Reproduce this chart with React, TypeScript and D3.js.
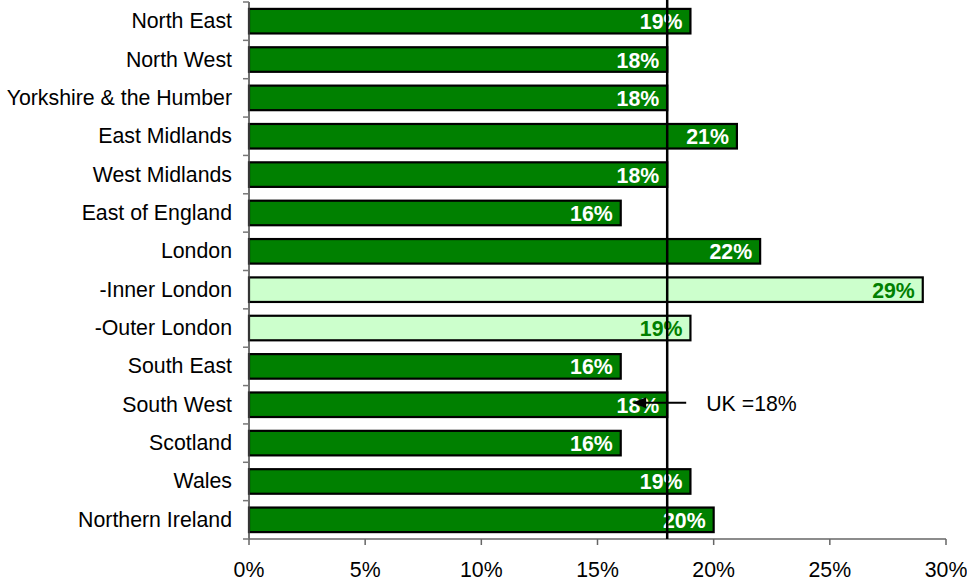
import React from "react";
import * as d3 from "d3";

const categories = [
  "North East",
  "North West",
  "Yorkshire & the Humber",
  "East Midlands",
  "West Midlands",
  "East of England",
  "London",
  "-Inner London",
  "-Outer London",
  "South East",
  "South West",
  "Scotland",
  "Wales",
  "Northern Ireland",
];
const values = [19, 18, 18, 21, 18, 16, 22, 29, 19, 16, 18, 16, 19, 20];
const subRegion = [false, false, false, false, false, false, false, true, true, false, false, false, false, false];
const xTicks = [0, 5, 10, 15, 20, 25, 30];
const ukValue = 18;
const ukLabel = "UK =18%";
const ukArrowRow = "South West";

const W = 967;
const H = 582;
const left = 249;
const right = 946;
const top = 2;
const bottom = 539;
const font = "'Liberation Sans', Arial, sans-serif";
const fs = 21.3;

export default function App() {
  const x = d3.scaleLinear().domain([0, 30]).range([left, right]);
  const y = d3
    .scaleBand<string>()
    .domain(categories)
    .range([top, bottom])
    .paddingInner(0.36)
    .paddingOuter(0.18);
  const step = y.step();
  const bw = y.bandwidth();
  const ux = x(ukValue);
  const arrowY = (y(ukArrowRow) as number) + bw / 2 - 2;

  return (
    <div style={{ position: "fixed", left: 0, top: 0 }}>
      <svg width={W} height={H} style={{ display: "block", background: "#fff" }}>
        {categories.map((c, i) => (
          <rect
            key={c}
            x={x(0)}
            y={y(c)}
            width={x(values[i]) - x(0)}
            height={bw}
            fill={subRegion[i] ? "#CCFFCC" : "#008000"}
            stroke="#000"
            strokeWidth={2.2}
          />
        ))}
        {categories.map((c, i) => (
          <text
            key={c + "v"}
            x={x(values[i]) - 8}
            y={(y(c) as number) + bw / 2 + 8}
            textAnchor="end"
            fontFamily={font}
            fontWeight="bold"
            fontSize={fs}
            fill={subRegion[i] ? "#008000" : "#fff"}
          >
            {values[i]}%
          </text>
        ))}
        <line x1={left} x2={left} y1={top} y2={bottom} stroke="#444" strokeWidth={1.5} />
        {d3.range(categories.length + 1).map((i) => (
          <line
            key={"yt" + i}
            x1={left - 6}
            x2={left}
            y1={top + i * step}
            y2={top + i * step}
            stroke="#777"
            strokeWidth={1.5}
          />
        ))}
        {categories.map((c) => (
          <text
            key={c + "l"}
            x={232}
            y={(y(c) as number) + bw / 2 + 7}
            textAnchor="end"
            fontFamily={font}
            fontSize={fs}
            fill="#000"
          >
            {c}
          </text>
        ))}
        <line x1={left} x2={right} y1={bottom} y2={bottom} stroke="#666" strokeWidth={1.5} />
        {xTicks.map((t) => (
          <g key={"xt" + t}>
            <line x1={x(t)} x2={x(t)} y1={bottom} y2={bottom + 6} stroke="#666" strokeWidth={1.5} />
            <text
              x={x(t)}
              y={577}
              textAnchor="middle"
              fontFamily={font}
              fontSize={fs}
              fill="#000"
            >
              {t}%
            </text>
          </g>
        ))}
        <line x1={ux} x2={ux} y1={0} y2={bottom} stroke="#000" strokeWidth={2.5} />
        <line x1={ux + 19} x2={ux - 22} y1={arrowY} y2={arrowY} stroke="#000" strokeWidth={2.2} />
        <path
          d={`M${ux - 35},${arrowY} L${ux - 21},${arrowY - 5.5} L${ux - 21},${arrowY + 5.5} Z`}
          fill="#000"
        />
        <text x={ux + 39} y={arrowY + 8} fontFamily={font} fontSize={fs} fill="#000">
          {ukLabel}
        </text>
      </svg>
    </div>
  );
}
